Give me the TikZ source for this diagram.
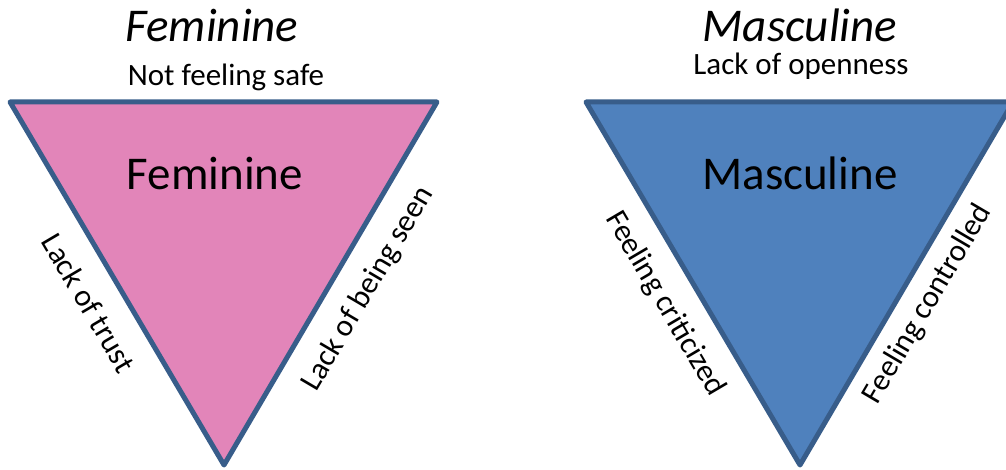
\documentclass[tikz,border=0pt]{standalone}
\usepackage{fontspec}
\setmainfont{Carlito}
\definecolor{pinkfill}{HTML}{E285B9}
\definecolor{bluefill}{HTML}{4F81BD}
\definecolor{edgeblue}{HTML}{385D8A}
\begin{document}
\begin{tikzpicture}[x=1pt,y=-1pt,
  tri/.style={draw=edgeblue,line width=5pt,line join=round},
  title/.style={font=\fontsize{47}{50}\selectfont\itshape,inner sep=0pt},
  sub/.style={font=\fontsize{31}{34}\selectfont,inner sep=0pt},
  inner/.style={font=\fontsize{47}{50}\selectfont,inner sep=0pt},
  side/.style={font=\fontsize{31}{34}\selectfont,inner sep=0pt}]
\useasboundingbox (0,0) rectangle (1006,470);
\begin{scope}
\clip (0,0) rectangle (1006,470);
\coordinate (fl) at (10,102);
\coordinate (fr) at (437,102);
\coordinate (fb) at (224,465);
\coordinate (ml) at (586,102);
\coordinate (mr) at (1013,102);
\coordinate (mb) at (800,465);
\draw[tri,fill=pinkfill] (fl) -- (fr) -- (fb) -- cycle;
\draw[tri,fill=bluefill] (ml) -- (mr) -- (mb) -- cycle;
\end{scope}
\node[title] (ftitle) at (212,25) {Feminine};
\node[sub] (fsub) at (226,77) {Not feeling safe};
\node[title] (mtitle) at (800,25) {Masculine};
\node[sub] (msub) at (801,66) {Lack of openness};
\node[inner] (finner) at (215,173) {Feminine};
\node[inner] (minner) at (800,173) {Masculine};
\node[side,rotate=-59.5] (ltrust) at (89,303) {Lack of trust};
\node[side,rotate=59.5] (lseen) at (368,289) {Lack of being seen};
\node[side,rotate=-59.5] (fcrit) at (665,304) {Feeling criticized};
\node[side,rotate=59.5] (fcont) at (928,304) {Feeling controlled};
\end{tikzpicture}
\end{document}
